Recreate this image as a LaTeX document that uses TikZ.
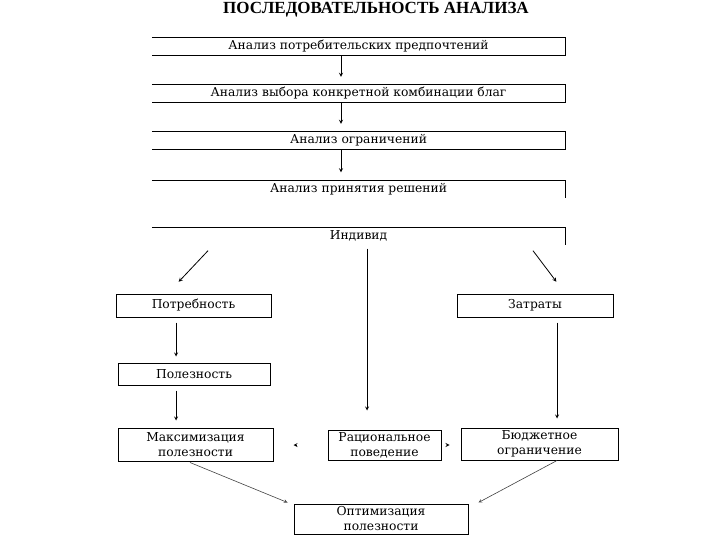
\documentclass[tikz,border=0pt]{standalone}
\usepackage{fontspec}
\setmainfont{Liberation Serif}
\newfontfamily\boxfont{DejaVu Serif}
\usetikzlibrary{positioning}
\begin{document}
\begin{tikzpicture}[>=stealth, x=1pt, y=-1pt,
    bar/.style={minimum width=413pt, minimum height=17pt, inner sep=0pt, font=\boxfont\fontsize{12.3}{13}\selectfont},
    blk/.style={draw, line width=1pt, inner sep=0pt, align=center, font=\boxfont\fontsize{12.3}{15}\selectfont},
    arr/.style={->, line width=0.8pt, shorten >=1pt},
    faint/.style={->, line width=0.6pt, gray!50!black}]
    \useasboundingbox (0,0) rectangle (720,540);
    \node[font=\bfseries\fontsize{17}{17}\selectfont] (title) at (376,10) {ПОСЛЕДОВАТЕЛЬНОСТЬ АНАЛИЗА};
    % sequence of analysis
    \node[bar] (a1) at (358.5,46.5) {Анализ потребительских предпочтений};
    \node[bar] (a2) at (358.5,93.5) {Анализ выбора конкретной комбинации благ};
    \node[bar] (a3) at (358.5,140.5) {Анализ ограничений};
    \node[bar] (a4) at (358.5,189) {Анализ принятия решений};
    \node[bar] (a5) at (358.5,236) {Индивид};
    \foreach \n in {a1,a2,a3}
        \draw[line width=1.1pt] (\n.north west)--(\n.north east)--(\n.south east)--(\n.south west);
    \foreach \n in {a4,a5}
        \draw[line width=1.1pt] (\n.north west)--(\n.north east)--(\n.south east);
    \draw[arr] ([xshift=-17.5pt]a1.south)--([xshift=-17.5pt,yshift=7pt]a2.north);
    \draw[arr] ([xshift=-17.5pt]a2.south)--([xshift=-17.5pt,yshift=7pt]a3.north);
    \draw[arr] ([xshift=-17.5pt]a3.south)--([xshift=-17.5pt,yshift=7pt]a4.north);
    % individual
    \node[blk, minimum width=155pt, minimum height=23pt] (need) at (193.5,305.5) {Потребность};
    \node[blk, minimum width=156pt, minimum height=23pt] (cost) at (535,305.5) {Затраты};
    \node[blk, minimum width=152pt, minimum height=22pt] (util) at (194,374) {Полезность};
    \node[blk, minimum width=155pt, minimum height=33pt] (maxu) at (195.5,444.5) {Максимизация\\полезности};
    \node[blk, minimum width=113pt, minimum height=30pt] (ratb) at (384.5,445) {Рациональное\\поведение};
    \node[blk, minimum width=157pt, minimum height=32pt] (budg) at (539.5,444) {Бюджетное\\ограничение};
    \node[blk, minimum width=174pt, minimum height=30pt] (opt) at (381,519) {Оптимизация\\полезности};
    \draw[arr] ([xshift=-150.5pt,yshift=-6pt]a5.south)--([xshift=-15.5pt,yshift=11pt]need.north);
    \draw[arr] ([xshift=174.5pt,yshift=-6pt]a5.south)--([xshift=22pt,yshift=11pt]cost.north);
    \draw[arr] ([xshift=8.5pt,yshift=-4pt]a5.south)--([xshift=-17.5pt,yshift=18pt]ratb.north);
    \draw[arr] ([xshift=-17.5pt,yshift=-5pt]need.south)--([xshift=-18pt,yshift=5pt]util.north);
    \draw[arr] ([xshift=-18pt,yshift=-5pt]util.south)--([xshift=-19.5pt,yshift=6pt]maxu.north);
    \draw[arr] ([xshift=22pt,yshift=-5pt]cost.south)--([xshift=17.5pt,yshift=8pt]budg.north);
    \draw[arr] ([xshift=-31pt]ratb.west)--([xshift=-35pt]ratb.west);
    \draw[arr] ([xshift=5pt]ratb.east)--([xshift=9pt]ratb.east);
    \draw[faint] ([xshift=-5.5pt,yshift=-1pt]maxu.south)--([xshift=-6pt,yshift=1pt]opt.north west);
    \draw[faint] ([xshift=17.5pt]budg.south)--([xshift=10pt,yshift=1pt]opt.north east);
\end{tikzpicture}
\end{document}
